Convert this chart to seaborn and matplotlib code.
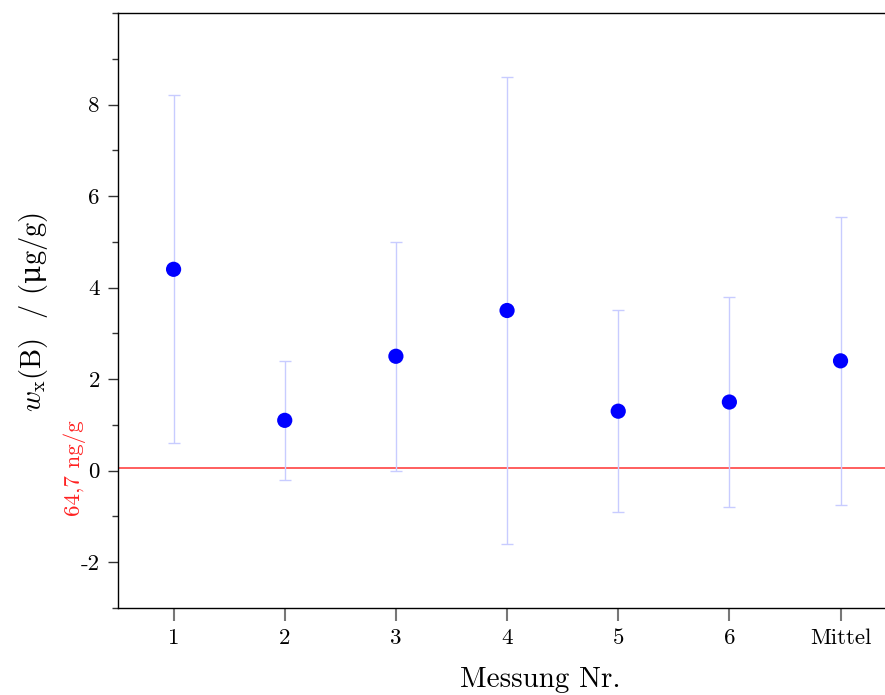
import matplotlib
matplotlib.use("Agg")
import matplotlib.pyplot as plt
from matplotlib.ticker import MultipleLocator
import numpy as np
import pandas as pd
import seaborn as sns

# Measurement data (µg/g) with expanded uncertainties
labels = ["1", "2", "3", "4", "5", "6", "Mittel"]
values = [4.4, 1.1, 2.5, 3.5, 1.3, 1.5, 2.4]
uncert = [3.8, 1.3, 2.5, 5.1, 2.2, 2.3, 3.15]
reference_value = 0.0647  # 64,7 ng/g
reference_label = "64,7 ng/g"

sns.set_theme(style="white")
plt.rcParams["font.family"] = ["cmr10", "DejaVu Serif"]
plt.rcParams["mathtext.fontset"] = "custom"
plt.rcParams["mathtext.rm"] = "cmr10"
plt.rcParams["mathtext.it"] = "cmmi10"
plt.rcParams["mathtext.sf"] = "DejaVu Serif"
plt.rcParams["axes.unicode_minus"] = False
plt.rcParams["text.color"] = "black"
plt.rcParams["axes.labelcolor"] = "black"
plt.rcParams["xtick.labelcolor"] = "black"
plt.rcParams["ytick.labelcolor"] = "black"

df = pd.DataFrame({"pos": np.arange(1, len(labels) + 1), "w": values, "u": uncert})

fig = plt.figure(figsize=(8.85, 6.95), dpi=100)
ax = fig.add_axes([118 / 885, 1 - 608 / 695, 1 - 118 / 885, (608 - 13) / 695])

ax.errorbar(df["pos"], df["w"], yerr=df["u"], fmt="none", ecolor="#c8ccff",
            elinewidth=1.0, capsize=4, capthick=1.0, zorder=2)
ax.axhline(reference_value, color="#ff3333", lw=1.1, zorder=1)
sns.scatterplot(data=df, x="pos", y="w", ax=ax, color="#0000ff", s=120,
                edgecolor="none", zorder=3, legend=False)

ax.set_xlim(0.5, 7.4)
ax.set_ylim(-3, 10)
ax.set_xticks(df["pos"])
ax.set_xticklabels(labels)
ax.yaxis.set_major_locator(MultipleLocator(2))
ax.yaxis.set_minor_locator(MultipleLocator(1))
ax.set_yticks(np.arange(-2, 9, 2))
ax.set_yticklabels([str(v) for v in range(-2, 9, 2)])

for side in ["left", "top", "bottom"]:
    ax.spines[side].set_color("black")
    ax.spines[side].set_linewidth(1.0)
ax.spines["right"].set_visible(False)

ax.tick_params(axis="y", which="major", direction="out", length=7, width=1,
               color="#333333", labelsize=16.5, pad=6, left=True)
ax.tick_params(axis="y", which="minor", direction="out", length=4, width=1,
               color="#333333", left=True)
ax.tick_params(axis="x", which="major", direction="out", length=9, width=1.5,
               color="#777777", labelsize=16.5, pad=6, bottom=True)

ax.set_xlabel("Messung Nr.", fontsize=21)
ax.xaxis.set_label_coords((540 - 118) / (885 - 118), -0.098)
ax.set_ylabel(r"$w_{\mathrm{x}}$(B)  / ($\mathsf{μ}$g/g)", fontsize=20.5)
ax.yaxis.set_label_coords(-(118 - 50) / (885 - 118), (608 - 312) / 595)

ax.text(-(118 - 75) / (885 - 118), reference_value, reference_label,
        transform=ax.get_yaxis_transform(), rotation=90, color="#ff2020",
        fontsize=16.5, ha="center", va="center")

fig.savefig("out.png", dpi=100)
